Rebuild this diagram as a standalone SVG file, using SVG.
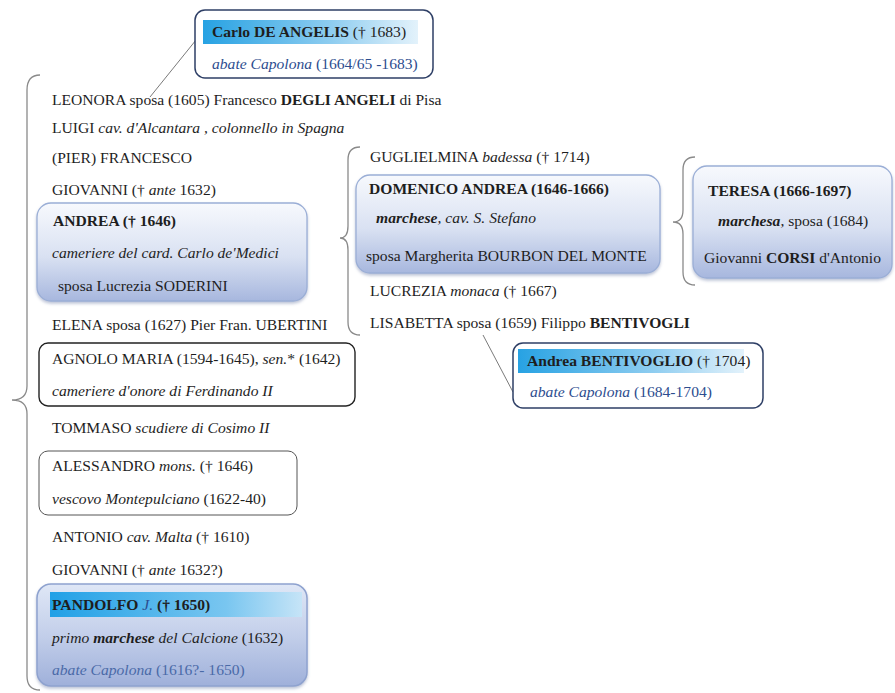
<svg xmlns="http://www.w3.org/2000/svg" width="895" height="693" viewBox="0 0 895 693">
<defs>
<linearGradient id="boxg" x1="0" y1="0" x2="0" y2="1">
<stop offset="0" stop-color="#f7f9fd"/>
<stop offset="0.55" stop-color="#d9e1f2"/>
<stop offset="1" stop-color="#a7b7de"/>
</linearGradient>
<linearGradient id="pandg" x1="0" y1="0" x2="0" y2="1">
<stop offset="0" stop-color="#dfe7f6"/>
<stop offset="0.5" stop-color="#c3cfea"/>
<stop offset="1" stop-color="#9fb0da"/>
</linearGradient>
<linearGradient id="headg" x1="0" y1="0" x2="1" y2="0">
<stop offset="0" stop-color="#27a2e3"/>
<stop offset="0.6" stop-color="#8fcdf0"/>
<stop offset="1" stop-color="#e3f2fb"/>
</linearGradient>
<linearGradient id="headg2" x1="0" y1="0" x2="1" y2="0">
<stop offset="0" stop-color="#20a0e6"/>
<stop offset="0.7" stop-color="#79c6f0"/>
<stop offset="1" stop-color="#c6e4f7"/>
</linearGradient>
<filter id="sh" x="-5%" y="-5%" width="110%" height="115%">
<feDropShadow dx="0" dy="2" stdDeviation="1.5" flood-color="#6f7fa8" flood-opacity="0.45"/>
</filter>
</defs>
<style>
text{font-family:"Liberation Serif","Times New Roman",serif;font-size:15.6px;fill:#1e1e1e}
.b{font-weight:bold}
.i{font-style:italic}
.bl{fill:#2d4d8f}
.fd{fill:#4a6aa8}
.brace{fill:none;stroke:#8a8a8a;stroke-width:1.3}
.conn{fill:none;stroke:#7a7a7a;stroke-width:1}
.gbox{fill:url(#boxg);stroke:#9aaed6;stroke-width:1.3}
.dbox{fill:#ffffff;stroke:#2e3f66;stroke-width:1.5}
.kbox{fill:#ffffff;stroke:#222;stroke-width:1.4}
.tbox{fill:#ffffff;stroke:#555;stroke-width:1}
</style>
<rect width="895" height="693" fill="#ffffff"/>

<g id="connectors">
<path class="conn" d="M196,40 L150,97"/>
<path class="conn" d="M483,335 L513,392"/>
<path class="brace" d="M40,75 Q27,75 27,90 L27,386 Q27,400 12,400 Q27,400 27,414 L27,676 Q27,690 40,690"/>
<path class="brace" d="M360,147 Q348,147 348,160 L348,226 Q348,238 340,238 Q348,238 348,250 L348,322 Q348,335 360,335"/>
<path class="brace" d="M695,157 Q683,157 683,170 L683,210 Q683,222 673,222 Q683,222 683,234 L683,272 Q683,285 695,285"/>
</g>

<g id="carlo">
<rect class="dbox" x="195" y="10" width="238" height="68" rx="10"/>
<rect x="203" y="20" width="215" height="24" fill="url(#headg)"/>
<text x="212" y="37"><tspan class="b">Carlo  DE ANGELIS</tspan>  († 1683)</text>
<text x="212" y="69" class="bl"><tspan class="i">abate Capolona</tspan>  (1664/65 -1683)</text>
</g>

<g id="leonora"><text x="52" y="105">LEONORA sposa (1605) Francesco <tspan class="b">DEGLI ANGELI</tspan> di Pisa</text></g>
<g id="luigi"><text x="52" y="133">LUIGI  <tspan class="i">cav. d'Alcantara , colonnello in Spagna</tspan></text></g>
<g id="pierfrancesco"><text x="52" y="163">(PIER) FRANCESCO</text></g>
<g id="giovanni1"><text x="52" y="195">GIOVANNI († <tspan class="i">ante</tspan> 1632)</text></g>

<g id="andrea">
<rect class="gbox" x="37" y="203" width="270" height="98" rx="14" filter="url(#sh)"/>
<text x="53" y="226" class="b">ANDREA  († 1646)</text>
<text x="52" y="258" class="i">cameriere del card. Carlo de'Medici</text>
<text x="58" y="291">sposa  Lucrezia SODERINI</text>
</g>

<g id="elena"><text x="52" y="330">ELENA sposa  (1627) Pier Fran. UBERTINI</text></g>

<g id="agnolo">
<rect class="kbox" x="39" y="343" width="316" height="63" rx="9"/>
<text x="52" y="364">AGNOLO MARIA  (1594-1645), <tspan class="i">sen.</tspan>* (1642)</text>
<text x="52" y="396" class="i">cameriere d'onore di Ferdinando II</text>
</g>

<g id="tommaso"><text x="52" y="433">TOMMASO  <tspan class="i">scudiere di Cosimo II</tspan></text></g>

<g id="alessandro">
<rect class="tbox" x="39" y="451" width="258" height="64" rx="9"/>
<text x="52" y="471">ALESSANDRO  <tspan class="i">mons.</tspan>  († 1646)</text>
<text x="52" y="504"><tspan class="i">vescovo Montepulciano</tspan>  (1622-40)</text>
</g>

<g id="antonio"><text x="52" y="542">ANTONIO  <tspan class="i">cav. Malta</tspan>  († 1610)</text></g>
<g id="giovanni2"><text x="52" y="575">GIOVANNI  († <tspan class="i">ante</tspan> 1632?)</text></g>

<g id="pandolfo">
<rect x="37" y="584" width="270" height="102" rx="14" fill="url(#pandg)" stroke="#8ea2cf" stroke-width="1.5" filter="url(#sh)"/>
<rect x="50" y="592" width="252" height="25" fill="url(#headg2)"/>
<text x="52" y="610"><tspan class="b">PANDOLFO</tspan> <tspan class="i bl">J.</tspan> <tspan class="b">(† 1650)</tspan></text>
<text x="52" y="643"><tspan class="i">primo <tspan class="b">marchese</tspan> del Calcione</tspan>  (1632)</text>
<text x="52" y="675" class="fd"><tspan class="i">abate Capolona</tspan> (1616?- 1650)</text>
</g>

<g id="guglielmina"><text x="370" y="162">GUGLIELMINA <tspan class="i">badessa</tspan>  († 1714)</text></g>

<g id="domenico">
<rect class="gbox" x="356" y="175" width="304" height="98" rx="14" filter="url(#sh)"/>
<text x="369" y="194" class="b">DOMENICO ANDREA   (1646-1666)</text>
<text x="376" y="223" class="i"><tspan class="b">marchese</tspan>, cav. S. Stefano</text>
<text x="366" y="261">sposa Margherita BOURBON DEL MONTE</text>
</g>

<g id="lucrezia"><text x="370" y="296">LUCREZIA <tspan class="i">monaca</tspan>  († 1667)</text></g>
<g id="lisabetta"><text x="370" y="328">LISABETTA sposa (1659) Filippo <tspan class="b">BENTIVOGLI</tspan></text></g>

<g id="teresa">
<rect class="gbox" x="693" y="166" width="199" height="112" rx="14" filter="url(#sh)"/>
<text x="708" y="196" class="b">TERESA    (1666-1697)</text>
<text x="718" y="226"><tspan class="i b">marchesa</tspan>, sposa  (1684)</text>
<text x="704" y="263">Giovanni <tspan class="b">CORSI</tspan> d'Antonio</text>
</g>

<g id="bentivoglio">
<rect class="dbox" x="513" y="343" width="250" height="65" rx="10"/>
<rect x="518" y="349" width="226" height="24" fill="url(#headg)"/>
<text x="527" y="366"><tspan class="b">Andrea  BENTIVOGLIO</tspan> († 1704)</text>
<text x="530" y="397" class="bl"><tspan class="i">abate Capolona</tspan>  (1684-1704)</text>
</g>
</svg>
